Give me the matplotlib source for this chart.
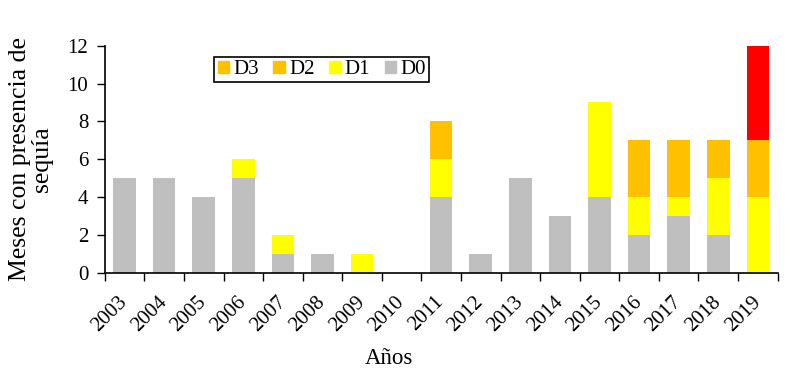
import matplotlib.pyplot as plt
import matplotlib.patches as mpatches
import numpy as np

plt.rcParams['font.family'] = ['Liberation Serif', 'DejaVu Serif']

years = ['2003', '2004', '2005', '2006', '2007', '2008', '2009', '2010', '2011',
         '2012', '2013', '2014', '2015', '2016', '2017', '2018', '2019']
d0 = [5, 5, 4, 5, 1, 1, 0, 0, 4, 1, 5, 3, 4, 2, 3, 2, 0]
d1 = [0, 0, 0, 1, 1, 0, 1, 0, 2, 0, 0, 0, 5, 2, 1, 3, 4]
d2 = [0, 0, 0, 0, 0, 0, 0, 0, 2, 0, 0, 0, 0, 3, 3, 2, 3]
d3 = [0, 0, 0, 0, 0, 0, 0, 0, 0, 0, 0, 0, 0, 0, 0, 0, 5]

gray = '#BFBFBF'
yellow = '#FFFF00'
orange = '#FFC000'
red = '#FF0000'

fig = plt.figure(figsize=(8, 3.86), dpi=100)
ax = fig.add_axes([0.131, 0.2935, 0.841, 0.588])

x = np.arange(len(years))
w = 0.57
b0 = np.array(d0)
b1 = b0 + np.array(d1)
b2 = b1 + np.array(d2)
ax.bar(x, d0, w, color=gray)
ax.bar(x, d1, w, bottom=b0, color=yellow)
ax.bar(x, d2, w, bottom=b1, color=orange)
ax.bar(x, d3, w, bottom=b2, color=red)

ax.set_xlim(-0.5, len(years) - 0.5)
ax.set_ylim(0, 12)
ax.set_yticks(range(0, 13, 2))
ax.tick_params(axis='y', labelsize=15, length=6, width=1, direction='out', pad=6)

# tick marks between categories, labels at centers
ax.set_xticks(np.arange(-0.5, len(years), 1))
ax.set_xticklabels([])
ax.tick_params(axis='x', which='major', length=6, width=1)
ax.set_xticks(x, minor=True)
ax.set_xticklabels(years, minor=True, rotation=45, fontsize=15,
                   ha='right', va='center', rotation_mode='anchor')
ax.tick_params(axis='x', which='minor', length=0, pad=19)

for s in ['top', 'right']:
    ax.spines[s].set_visible(False)
for s in ['left', 'bottom']:
    ax.spines[s].set_linewidth(1.2)

ax.set_ylabel('Meses con presencia de\nsequía', fontsize=18.5, linespacing=1.0, labelpad=10)
ax.set_xlabel('Años', fontsize=16.5)
ax.xaxis.set_label_coords(0.423, -0.33)

# legend as in original (D3 shown with orange)
hd3 = mpatches.Patch(color=orange)
hd2 = mpatches.Patch(color=orange)
hd1 = mpatches.Patch(color=yellow)
hd0 = mpatches.Patch(color=gray)
leg = ax.legend([hd3, hd2, hd1, hd0], ['D3', 'D2', 'D1', 'D0'], ncol=4,
                loc='upper left', bbox_to_anchor=(0.163, 0.95), borderaxespad=0,
                fontsize=15, handlelength=0.55, handleheight=0.55,
                handletextpad=0.2, columnspacing=0.7, borderpad=0.15,
                fancybox=False, framealpha=1)
leg.get_frame().set_edgecolor('black')
leg.get_frame().set_linewidth(1.2)

fig.savefig('out.png', dpi=100)
